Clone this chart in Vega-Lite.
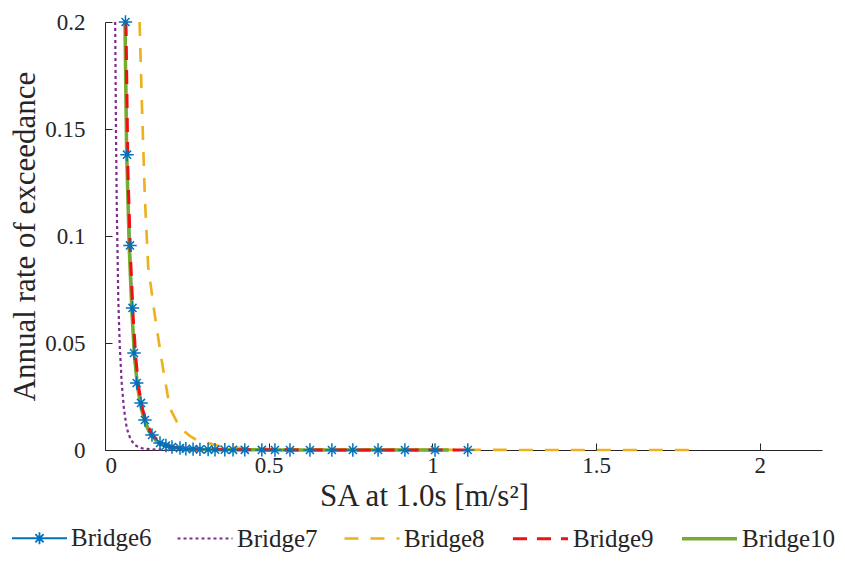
{
  "$schema": "https://vega.github.io/schema/vega-lite/v6.json",
  "width": 717,
  "height": 428,
  "autosize": {"type": "none"},
  "padding": {"left": 105, "top": 22, "right": 23, "bottom": 111},
  "background": "white",
  "config": {
    "view": {"stroke": null},
    "font": "Liberation Serif",
    "axis": {
      "labelFont": "Liberation Serif",
      "titleFont": "Liberation Serif",
      "titleFontWeight": "normal",
      "labelColor": "#262626",
      "titleColor": "#262626",
      "domainColor": "#262626",
      "tickColor": "#262626",
      "grid": false,
      "labelFontSize": 23,
      "titleFontSize": 31
    },
    "legend": {
      "labelFont": "Liberation Serif",
      "labelFontSize": 25,
      "labelColor": "#262626"
    }
  },
  "data": {
    "values": [
      {"bridge": "Bridge6", "sa": 0.0626, "rate": 0.2},
      {"bridge": "Bridge6", "sa": 0.0672, "rate": 0.138},
      {"bridge": "Bridge6", "sa": 0.0763, "rate": 0.0956},
      {"bridge": "Bridge6", "sa": 0.084, "rate": 0.0664},
      {"bridge": "Bridge6", "sa": 0.0885, "rate": 0.0453},
      {"bridge": "Bridge6", "sa": 0.0968, "rate": 0.0313},
      {"bridge": "Bridge6", "sa": 0.11, "rate": 0.022},
      {"bridge": "Bridge6", "sa": 0.122, "rate": 0.014},
      {"bridge": "Bridge6", "sa": 0.1435, "rate": 0.007},
      {"bridge": "Bridge6", "sa": 0.168, "rate": 0.0033},
      {"bridge": "Bridge6", "sa": 0.186, "rate": 0.0021},
      {"bridge": "Bridge6", "sa": 0.2046, "rate": 0.0014},
      {"bridge": "Bridge6", "sa": 0.229, "rate": 0.0009},
      {"bridge": "Bridge6", "sa": 0.247, "rate": 0.0006},
      {"bridge": "Bridge6", "sa": 0.269, "rate": 0.0004},
      {"bridge": "Bridge6", "sa": 0.29, "rate": 0.0003},
      {"bridge": "Bridge6", "sa": 0.315, "rate": 0.0002},
      {"bridge": "Bridge6", "sa": 0.336, "rate": 0.00015},
      {"bridge": "Bridge6", "sa": 0.366, "rate": 0.0001},
      {"bridge": "Bridge6", "sa": 0.391, "rate": 0.00008},
      {"bridge": "Bridge6", "sa": 0.427, "rate": 0.00006},
      {"bridge": "Bridge6", "sa": 0.479, "rate": 0.00004},
      {"bridge": "Bridge6", "sa": 0.519, "rate": 0.00003},
      {"bridge": "Bridge6", "sa": 0.565, "rate": 0.00002},
      {"bridge": "Bridge6", "sa": 0.626, "rate": 0.000015},
      {"bridge": "Bridge6", "sa": 0.693, "rate": 0.00001},
      {"bridge": "Bridge6", "sa": 0.757, "rate": 0.000008},
      {"bridge": "Bridge6", "sa": 0.834, "rate": 0.000006},
      {"bridge": "Bridge6", "sa": 0.916, "rate": 0.000004},
      {"bridge": "Bridge6", "sa": 1.008, "rate": 0.000003},
      {"bridge": "Bridge6", "sa": 1.108, "rate": 0.000002},

      {"bridge": "Bridge7", "sa": 0.0311, "rate": 0.2},
      {"bridge": "Bridge7", "sa": 0.0336, "rate": 0.148},
      {"bridge": "Bridge7", "sa": 0.0357, "rate": 0.117},
      {"bridge": "Bridge7", "sa": 0.0406, "rate": 0.0701},
      {"bridge": "Bridge7", "sa": 0.045, "rate": 0.049},
      {"bridge": "Bridge7", "sa": 0.051, "rate": 0.0313},
      {"bridge": "Bridge7", "sa": 0.058, "rate": 0.019},
      {"bridge": "Bridge7", "sa": 0.0663, "rate": 0.0103},
      {"bridge": "Bridge7", "sa": 0.078, "rate": 0.005},
      {"bridge": "Bridge7", "sa": 0.0916, "rate": 0.0023},
      {"bridge": "Bridge7", "sa": 0.105, "rate": 0.0012},
      {"bridge": "Bridge7", "sa": 0.116, "rate": 0.0007},
      {"bridge": "Bridge7", "sa": 0.14, "rate": 0.0003},
      {"bridge": "Bridge7", "sa": 0.18, "rate": 0.0001},
      {"bridge": "Bridge7", "sa": 0.25, "rate": 0.00003},
      {"bridge": "Bridge7", "sa": 0.4, "rate": 0.00001},
      {"bridge": "Bridge7", "sa": 0.7, "rate": 0.000002},
      {"bridge": "Bridge7", "sa": 1.0, "rate": 0.000001},

      {"bridge": "Bridge8", "sa": 0.1056, "rate": 0.2},
      {"bridge": "Bridge8", "sa": 0.113, "rate": 0.16},
      {"bridge": "Bridge8", "sa": 0.122, "rate": 0.117},
      {"bridge": "Bridge8", "sa": 0.132, "rate": 0.0855},
      {"bridge": "Bridge8", "sa": 0.153, "rate": 0.0621},
      {"bridge": "Bridge8", "sa": 0.173, "rate": 0.042},
      {"bridge": "Bridge8", "sa": 0.198, "rate": 0.0196},
      {"bridge": "Bridge8", "sa": 0.229, "rate": 0.0103},
      {"bridge": "Bridge8", "sa": 0.26, "rate": 0.0065},
      {"bridge": "Bridge8", "sa": 0.28, "rate": 0.0047},
      {"bridge": "Bridge8", "sa": 0.36, "rate": 0.0014},
      {"bridge": "Bridge8", "sa": 0.45, "rate": 0.0006},
      {"bridge": "Bridge8", "sa": 0.6, "rate": 0.0002},
      {"bridge": "Bridge8", "sa": 0.8, "rate": 0.00008},
      {"bridge": "Bridge8", "sa": 1.0, "rate": 0.00004},
      {"bridge": "Bridge8", "sa": 1.3, "rate": 0.00002},
      {"bridge": "Bridge8", "sa": 1.6, "rate": 0.00001},
      {"bridge": "Bridge8", "sa": 1.82, "rate": 0.000006},

      {"bridge": "Bridge10", "sa": 0.061, "rate": 0.2},
      {"bridge": "Bridge10", "sa": 0.066, "rate": 0.14},
      {"bridge": "Bridge10", "sa": 0.074, "rate": 0.095},
      {"bridge": "Bridge10", "sa": 0.082, "rate": 0.065},
      {"bridge": "Bridge10", "sa": 0.09, "rate": 0.044},
      {"bridge": "Bridge10", "sa": 0.099, "rate": 0.03},
      {"bridge": "Bridge10", "sa": 0.11, "rate": 0.02},
      {"bridge": "Bridge10", "sa": 0.124, "rate": 0.012},
      {"bridge": "Bridge10", "sa": 0.142, "rate": 0.0066},
      {"bridge": "Bridge10", "sa": 0.165, "rate": 0.0032},
      {"bridge": "Bridge10", "sa": 0.2, "rate": 0.0013},
      {"bridge": "Bridge10", "sa": 0.25, "rate": 0.0005},
      {"bridge": "Bridge10", "sa": 0.3, "rate": 0.00025},
      {"bridge": "Bridge10", "sa": 0.4, "rate": 0.00008},
      {"bridge": "Bridge10", "sa": 0.6, "rate": 0.00002},
      {"bridge": "Bridge10", "sa": 0.8, "rate": 0.00001},
      {"bridge": "Bridge10", "sa": 1.05, "rate": 0.000004},

      {"bridge": "Bridge9", "sa": 0.064, "rate": 0.2},
      {"bridge": "Bridge9", "sa": 0.07, "rate": 0.13},
      {"bridge": "Bridge9", "sa": 0.078, "rate": 0.09},
      {"bridge": "Bridge9", "sa": 0.086, "rate": 0.062},
      {"bridge": "Bridge9", "sa": 0.094, "rate": 0.043},
      {"bridge": "Bridge9", "sa": 0.103, "rate": 0.029},
      {"bridge": "Bridge9", "sa": 0.115, "rate": 0.019},
      {"bridge": "Bridge9", "sa": 0.128, "rate": 0.012},
      {"bridge": "Bridge9", "sa": 0.145, "rate": 0.0068},
      {"bridge": "Bridge9", "sa": 0.17, "rate": 0.0033},
      {"bridge": "Bridge9", "sa": 0.2, "rate": 0.0015},
      {"bridge": "Bridge9", "sa": 0.25, "rate": 0.0006},
      {"bridge": "Bridge9", "sa": 0.3, "rate": 0.0003},
      {"bridge": "Bridge9", "sa": 0.4, "rate": 0.0001},
      {"bridge": "Bridge9", "sa": 0.6, "rate": 0.00003},
      {"bridge": "Bridge9", "sa": 0.8, "rate": 0.00001},
      {"bridge": "Bridge9", "sa": 1.1, "rate": 0.000004}
    ]
  },
  "layer": [
    {
      "mark": {"type": "line", "interpolate": "linear"},
      "encoding": {
        "x": {
          "field": "sa", "type": "quantitative",
          "scale": {"domain": [0, 2.19], "nice": false, "zero": true},
          "axis": {
            "values": [0, 0.5, 1, 1.5, 2],
            "format": "~g",
            "title": "SA at 1.0s [m/s²]",
            "tickSize": -7,
            "labelPadding": 11,
            "titleX": 319,
            "titleY": 55,
            "titleAlign": "center",
            "titleBaseline": "alphabetic"
          }
        },
        "y": {
          "field": "rate", "type": "quantitative",
          "scale": {"domain": [0, 0.2], "nice": false},
          "axis": {
            "values": [0, 0.05, 0.1, 0.15, 0.2],
            "format": "~g",
            "title": "Annual rate of exceedance",
            "tickSize": -7,
            "labelPadding": 27,
            "titlePadding": 3
          }
        },
        "color": {
          "field": "bridge", "type": "nominal",
          "sort": ["Bridge6", "Bridge7", "Bridge8", "Bridge9", "Bridge10"],
          "scale": {
            "domain": ["Bridge6", "Bridge7", "Bridge8", "Bridge9", "Bridge10"],
            "range": ["#0072BD", "#7E2F8E", "#EDB120", "#EE1111", "#77AC30"]
          },
          "legend": {
            "title": null,
            "orient": "none",
            "direction": "horizontal",
            "legendX": -94,
            "legendY": 487,
            "padding": 0,
            "symbolSize": 3025,
            "symbolStrokeWidth": 1.5,
            "labelOffset": 3,
            "columnPadding": 21,
            "encode": {
              "symbols": {
                "update": {
                  "shape": {"signal": "datum.label === 'Bridge6' ? 'M-1,0H1M0,-0.22V0.22M-0.15,-0.15L0.15,0.15M-0.15,0.15L0.15,-0.15' : 'stroke'"},
                  "strokeWidth": {"signal": "datum.label === 'Bridge9' ? 4 : datum.label === 'Bridge7' ? 3.5 : 1.5"}
                }
              }
            }
          }
        },
        "strokeDash": {
          "field": "bridge", "type": "nominal",
          "sort": ["Bridge6", "Bridge7", "Bridge8", "Bridge9", "Bridge10"],
          "scale": {
            "domain": ["Bridge6", "Bridge7", "Bridge8", "Bridge9", "Bridge10"],
            "range": [[1, 0], [3, 3], [14, 12], [14, 10], [1, 0]]
          },
          "legend": null
        },
        "strokeWidth": {
          "field": "bridge", "type": "nominal",
          "scale": {
            "domain": ["Bridge6", "Bridge7", "Bridge8", "Bridge9", "Bridge10"],
            "range": [1.8, 3.5, 1.5, 4, 1.2]
          },
          "legend": null
        }
      }
    },
    {
      "transform": [{"filter": "datum.bridge === 'Bridge6'"}],
      "mark": {
        "type": "point",
        "shape": "M-1,0L1,0M0,-1L0,1M-0.6,-0.6L0.6,0.6M-0.6,0.6L0.6,-0.6",
        "filled": false,
        "color": "#0072BD",
        "size": 180,
        "strokeWidth": 1.5,
        "opacity": 1
      },
      "encoding": {
        "x": {"field": "sa", "type": "quantitative"},
        "y": {"field": "rate", "type": "quantitative"}
      }
    }
  ]
}
